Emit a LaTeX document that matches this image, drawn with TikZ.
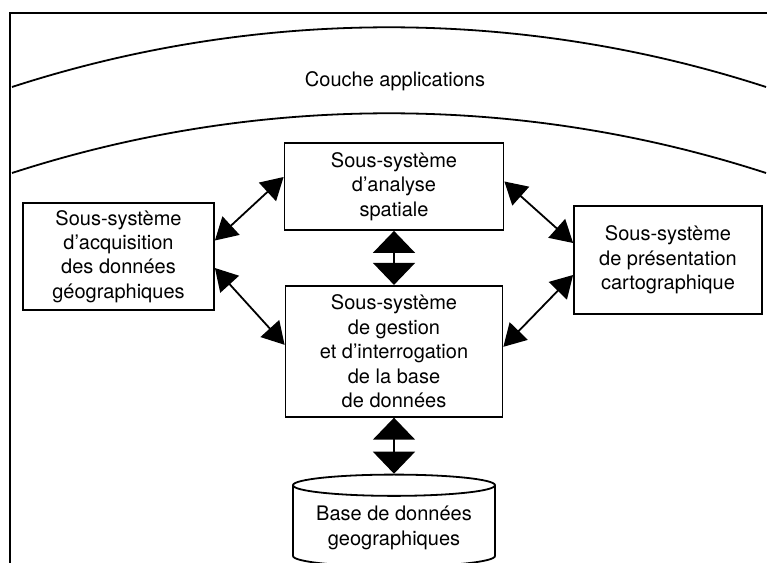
\documentclass[tikz,border=0pt]{standalone}
\usepackage{fontspec}
\setmainfont{TeX Gyre Heros}
\usetikzlibrary{arrows.meta,positioning,shapes.geometric}

\begin{document}
\begin{tikzpicture}[x=1pt, y=1pt,
  box/.style={draw, line width=0.9pt, align=center, inner sep=2pt, font=\fontsize{10}{12.2}\selectfont},
  cyl/.style={box, cylinder, shape border rotate=90, aspect=0.13},
  arr/.style={{Triangle[length=11pt,width=12.5pt]}-{Triangle[length=11pt,width=12.5pt]}, line width=0.9pt},
  bigarr/.style={{Triangle[length=11pt,width=21pt]}-{Triangle[length=11pt,width=21pt]}, line width=0.8pt},
  ligne/.style={line width=0.9pt},
  node distance=27pt
]
\useasboundingbox (0,0) rectangle (383.5,281.5);
% cadre et couches
\draw[line width=1.1pt] (5,0) -- (5,275) -- (383.5,275);
\draw[ligne] (6,238) arc[start angle=108, end angle=72, radius=610pt];
\draw[ligne] (6,195) arc[start angle=108, end angle=72, radius=610pt];
\node[font=\fontsize{10}{12}\selectfont] (couche) at (197.5,241) {Couche applications};
% sous-systemes
\node[box, minimum width=109.5pt, minimum height=43.5pt] (ana) at (197,188.25) {Sous-système\\d'analyse\\spatiale};
\node[box, minimum width=108.5pt, minimum height=65.5pt, below=27pt of ana] (gest) {Sous-système\\de gestion\\et d'interrogation\\de la base\\de données};
\node[cyl, minimum width=101pt, minimum height=46pt, below=28pt of gest] (base) {Base de données\\geographiques};
\node[box, minimum width=95.5pt, minimum height=53.5pt] (acq) at (59.25,153.25) {Sous-système\\d'acquisition\\des données\\géographiques};
\node[box, minimum width=94pt, minimum height=54pt] (pres) at (334,151.5) {Sous-système\\de présentation\\cartographique};
% liaisons
\draw[arr] ([yshift=8pt]acq.east) -- ([yshift=4.75pt]ana.west);
\draw[arr] ([yshift=-5.75pt]acq.east) -- ([yshift=3.25pt]gest.west);
\draw[arr] ([yshift=2.5pt]ana.east) -- ([yshift=8.5pt]pres.west);
\draw[arr] ([yshift=-7.5pt]pres.west) -- ([yshift=2.25pt]gest.east);
\draw[bigarr] (ana) -- (gest);
\draw[bigarr] (gest) -- (base);
\end{tikzpicture}
\end{document}
